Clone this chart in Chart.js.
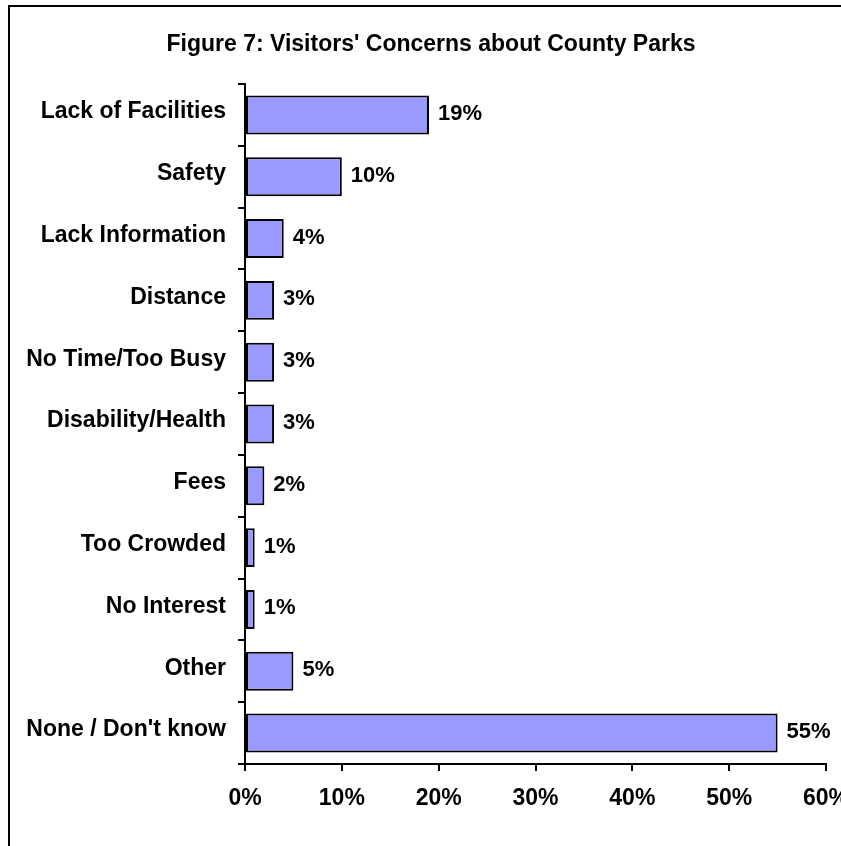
<!DOCTYPE html>
<html>
<head>
<meta charset="utf-8">
<script src="https://cdn.jsdelivr.net/npm/chart.js@4"></script>
<style>
  html, body { margin: 0; padding: 0; background: #fff; overflow: hidden; width: 841px; height: 846px; }
  #frame { position: absolute; left: 8px; top: 5px; width: 900px; height: 900px; border: 2px solid #000; }
  #c { position: absolute; left: 0; top: 0; }
</style>
</head>
<body>
<div id="frame"></div>
<canvas id="c" width="870" height="846"></canvas>
<script>
const titleText = "Figure 7: Visitors' Concerns about County Parks";
const categories = [
  "Lack of Facilities", "Safety", "Lack Information", "Distance",
  "No Time/Too Busy", "Disability/Health", "Fees", "Too Crowded",
  "No Interest", "Other", "None / Don't know"
];
const percentValues = [19, 10, 4, 3, 3, 3, 2, 1, 1, 5, 55];
const axisMin = 0;
const axisMax = 60;
const axisStep = 10;

const FONT = "'Liberation Sans', Arial, Helvetica, sans-serif";
Chart.defaults.color = '#000';
Chart.defaults.font.family = FONT;

// Title drawn centred over the framed figure (not just the chart box)
const figureTitle = {
  id: 'figureTitle',
  afterDraw(chart) {
    const ctx = chart.ctx;
    ctx.save();
    ctx.font = 'bold 23px ' + FONT;
    ctx.fillStyle = '#000';
    ctx.textAlign = 'center';
    ctx.textBaseline = 'alphabetic';
    ctx.fillText(titleText, 431, 51);
    ctx.restore();
  }
};

const valueLabels = {
  id: 'valueLabels',
  afterDatasetsDraw(chart) {
    const ctx = chart.ctx;
    const meta = chart.getDatasetMeta(0);
    ctx.save();
    ctx.font = 'bold 22px ' + FONT;
    ctx.fillStyle = '#000';
    ctx.textAlign = 'left';
    ctx.textBaseline = 'alphabetic';
    meta.data.forEach((bar, i) => {
      ctx.fillText(percentValues[i] + '%', bar.x + 9, bar.y + 5);
    });
    ctx.restore();
  }
};

new Chart(document.getElementById('c'), {
  type: 'bar',
  data: {
    labels: categories,
    datasets: [{
      data: percentValues,
      backgroundColor: '#9999FF',
      borderColor: '#000',
      borderWidth: 2,
      borderSkipped: false,
      barPercentage: 0.63,
      categoryPercentage: 1.0
    }]
  },
  options: {
    indexAxis: 'y',
    responsive: false,
    animation: false,
    devicePixelRatio: 1,
    layout: { padding: { left: 0, right: 44, top: 84, bottom: 0 } },
    plugins: {
      legend: { display: false },
      tooltip: { enabled: false },
      title: { display: false }
    },
    scales: {
      x: {
        min: axisMin,
        max: axisMax,
        ticks: {
          stepSize: axisStep,
          color: '#000',
          padding: 14,
          font: { size: 23, weight: 'bold', family: FONT, lineHeight: 1.2 },
          callback: (v) => v + '%'
        },
        grid: {
          drawOnChartArea: false,
          drawTicks: true,
          tickLength: 7,
          color: '#000',
          lineWidth: 2
        },
        border: { display: true, color: '#000', width: 2 },
        afterFit(scale) { scale.height = 82; }
      },
      y: {
        ticks: {
          color: '#000',
          padding: 12,
          labelOffset: -3,
          font: { size: 23, weight: 'bold', family: FONT, lineHeight: 1.2 }
        },
        grid: {
          offset: true,
          drawOnChartArea: false,
          drawTicks: true,
          tickLength: 7,
          color: '#000',
          lineWidth: 2
        },
        border: { display: true, color: '#000', width: 2 },
        afterFit(scale) { scale.width = 245; }
      }
    }
  },
  plugins: [valueLabels, figureTitle]
});
</script>
</body>
</html>
